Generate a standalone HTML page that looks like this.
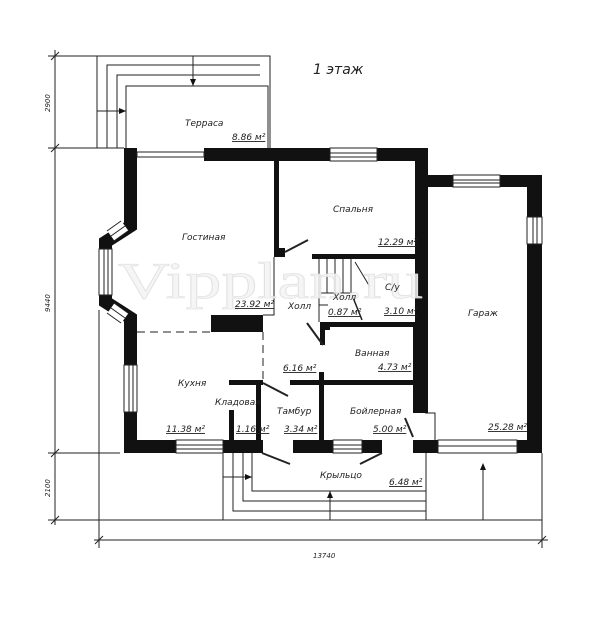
<!DOCTYPE html>
<html><head><meta charset="utf-8"><style>
html,body{margin:0;padding:0;background:#fff;}
svg{display:block;}
text{font-family:"DejaVu Sans","Liberation Sans",sans-serif;font-style:italic;fill:#222;}
</style></head><body>
<svg width="600" height="625" viewBox="0 0 600 625" xmlns="http://www.w3.org/2000/svg">
<rect width="600" height="625" fill="#fff"/>

<g stroke="#222" stroke-width="1" fill="none">
<line x1="55" y1="50" x2="55" y2="525"/>
<line x1="48" y1="56" x2="100" y2="56"/>
<line x1="48" y1="148" x2="124" y2="148"/>
<line x1="48" y1="453" x2="120" y2="453"/>
<line x1="48" y1="520" x2="223" y2="520"/>
<line x1="51" y1="60" x2="59" y2="52"/><line x1="51" y1="152" x2="59" y2="144"/>
<line x1="51" y1="457" x2="59" y2="449"/><line x1="51" y1="524" x2="59" y2="516"/>
<line x1="94" y1="540" x2="548" y2="540"/>
<line x1="99" y1="310" x2="99" y2="548"/>
<line x1="542" y1="453" x2="542" y2="548"/>
<line x1="95" y1="544" x2="103" y2="536"/><line x1="538" y1="544" x2="546" y2="536"/>
<polyline points="97,148 97,56 270,56 270,148"/>
<polyline points="107,148 107,65 260,65"/>
<polyline points="117,148 117,75 260,75"/>
<polyline points="126,148 126,86 268,86 268,148"/>
<line x1="97" y1="111" x2="126" y2="111"/>
<line x1="193" y1="56" x2="193" y2="86"/>
<polyline points="223,453 223,520 542,520"/>
<polyline points="233,453 233,511 426,511"/>
<polyline points="243,453 243,501 426,501"/>
<polyline points="252,453 252,491 426,491"/>
<line x1="426" y1="453" x2="426" y2="520"/>
<line x1="223" y1="477" x2="252" y2="477"/>
<line x1="330" y1="491" x2="330" y2="520"/>
<line x1="483" y1="465" x2="483" y2="520"/>
<line x1="427" y1="187" x2="427" y2="413"/>
<polyline points="425,413 435,413 435,440"/>
</g>
<g fill="#111">
<polygon points="193,86 190,79 196,79"/>
<polygon points="126,111 119,108 119,114"/>
<polygon points="252,477 245,474 245,480"/>
<polygon points="330,491 327,498 333,498"/>
<polygon points="483,463 480,470 486,470"/>
</g>

<g fill="#111">
<rect x="124" y="148" width="13" height="70"/>
<rect x="204" y="148" width="126" height="13"/>
<rect x="377" y="148" width="51" height="13"/>
<rect x="415" y="148" width="13" height="265"/>
<rect x="428" y="175" width="25" height="12"/>
<rect x="500" y="175" width="42" height="12"/>
<rect x="527" y="175" width="15" height="42"/>
<rect x="527" y="244" width="15" height="209"/>
<rect x="124" y="320" width="13" height="45"/>
<rect x="124" y="412" width="13" height="41"/>
<rect x="124" y="440" width="52" height="13"/>
<rect x="223" y="440" width="40" height="13"/>
<rect x="293" y="440" width="40" height="13"/>
<rect x="362" y="440" width="20" height="13"/>
<rect x="413" y="440" width="25" height="13"/>
<rect x="517" y="440" width="25" height="13"/>
<rect x="274" y="161" width="5" height="96"/>
<rect x="274" y="248" width="11" height="9"/>
<rect x="312" y="254" width="104" height="5"/>
<rect x="320" y="322" width="95" height="5"/>
<rect x="320" y="322" width="10" height="8"/>
<rect x="320" y="322" width="5" height="23"/>
<rect x="229" y="380" width="34" height="5"/>
<rect x="256" y="380" width="5" height="60"/>
<rect x="229" y="410" width="5" height="30"/>
<rect x="290" y="380" width="123" height="5"/>
<rect x="319" y="372" width="5" height="68"/>
<rect x="211" y="315" width="52" height="17"/>
<rect x="413" y="327" width="12" height="86"/>
</g>
<polyline points="130.5,212 130.5,226 105.5,242 105.5,302 130.5,318 130.5,330" fill="none" stroke="#111" stroke-width="13" stroke-linejoin="miter"/>
<g stroke="#222" stroke-width="1">
<line x1="125" y1="226" x2="111" y2="236" stroke="#fff" stroke-width="11"/>
<line x1="121" y1="221" x2="107" y2="231"/><line x1="128" y1="231" x2="114" y2="241"/>
<line x1="125" y1="226" x2="111" y2="236"/>
<line x1="111" y1="308" x2="125" y2="318" stroke="#fff" stroke-width="11"/>
<line x1="107" y1="313" x2="121" y2="323"/><line x1="114" y1="303" x2="128" y2="313"/>
<line x1="111" y1="308" x2="125" y2="318"/>
</g>
<g stroke="#222" stroke-width="1" fill="#fff">
<rect x="137" y="152" width="67" height="5"/>
<rect x="330" y="148" width="47" height="13"/>
<line x1="330" y1="153" x2="377" y2="153"/><line x1="330" y1="157" x2="377" y2="157"/>
<rect x="453" y="175" width="47" height="12"/>
<line x1="453" y1="180" x2="500" y2="180"/><line x1="453" y1="183" x2="500" y2="183"/>
<rect x="527" y="217" width="15" height="27"/>
<line x1="533" y1="217" x2="533" y2="244"/><line x1="537" y1="217" x2="537" y2="244"/>
<rect x="99" y="249" width="13" height="46"/>
<line x1="104" y1="249" x2="104" y2="295"/><line x1="108" y1="249" x2="108" y2="295"/>
<rect x="124" y="365" width="13" height="47"/>
<line x1="129" y1="365" x2="129" y2="412"/><line x1="133" y1="365" x2="133" y2="412"/>
<rect x="176" y="440" width="47" height="13"/>
<line x1="176" y1="445" x2="223" y2="445"/><line x1="176" y1="449" x2="223" y2="449"/>
<rect x="333" y="440" width="29" height="13"/>
<line x1="333" y1="445" x2="362" y2="445"/><line x1="333" y1="449" x2="362" y2="449"/>
<rect x="438" y="440" width="79" height="13"/>
<line x1="438" y1="446" x2="517" y2="446"/>
</g>
<g stroke="#222" stroke-width="1" fill="none">
<line x1="137" y1="332" x2="211" y2="332" stroke-dasharray="8,5"/>
<line x1="263" y1="332" x2="263" y2="380" stroke-dasharray="8,5"/>
<polyline points="263,315 274,315 274,257"/>
<line x1="319" y1="259" x2="319" y2="322"/>
<line x1="319" y1="293" x2="350" y2="293"/>
<line x1="327" y1="259" x2="327" y2="293"/><line x1="335" y1="259" x2="335" y2="293"/>
<line x1="343" y1="259" x2="343" y2="293"/><line x1="351" y1="259" x2="351" y2="293"/>
<line x1="355" y1="262" x2="370" y2="287"/>
<line x1="319" y1="305" x2="328" y2="305"/>
<line x1="285" y1="252" x2="308" y2="240" stroke-width="2"/>
<line x1="323" y1="345" x2="307" y2="323" stroke-width="2"/>
<line x1="263" y1="383" x2="288" y2="396" stroke-width="2"/>
<line x1="262" y1="453" x2="290" y2="464" stroke-width="2"/>
<line x1="382" y1="453" x2="360" y2="464" stroke-width="2"/>
<line x1="413" y1="437" x2="405" y2="418" stroke-width="2"/>
<line x1="352" y1="295" x2="362" y2="320" stroke-width="1.5"/>
</g>
<text x="118" y="298" font-size="52" textLength="305" lengthAdjust="spacingAndGlyphs" style="font-family:'Liberation Serif',serif;font-style:normal;fill:#f3f3f3;stroke:#e2e2e2;stroke-width:0.8" fill-opacity="0.85">Vipplan.ru</text>
<text x="313" y="74" font-size="14">1 этаж</text>
<g font-size="9">
<text x="185" y="126">Терраса</text>
<text x="232" y="140" text-decoration="underline">8.86 м²</text>
<text x="333" y="212">Спальня</text>
<text x="378" y="245" text-decoration="underline">12.29 м²</text>
<text x="182" y="240">Гостиная</text>
<text x="235" y="307" text-decoration="underline">23.92 м²</text>
<text x="288" y="309">Холл</text>
<text x="333" y="300">Холл</text>
<text x="328" y="315" text-decoration="underline">0.87 м²</text>
<text x="385" y="290">С/у</text>
<text x="384" y="314" text-decoration="underline">3.10 м²</text>
<text x="468" y="316">Гараж</text>
<text x="488" y="430" text-decoration="underline">25.28 м²</text>
<text x="355" y="356">Ванная</text>
<text x="378" y="370" text-decoration="underline">4.73 м²</text>
<text x="283" y="371" text-decoration="underline">6.16 м²</text>
<text x="178" y="386">Кухня</text>
<text x="215" y="405">Кладовая</text>
<text x="166" y="432" text-decoration="underline">11.38 м²</text>
<text x="236" y="432" text-decoration="underline">1.16 м²</text>
<text x="277" y="414">Тамбур</text>
<text x="284" y="432" text-decoration="underline">3.34 м²</text>
<text x="350" y="414">Бойлерная</text>
<text x="373" y="432" text-decoration="underline">5.00 м²</text>
<text x="320" y="478">Крыльцо</text>
<text x="389" y="485" text-decoration="underline">6.48 м²</text>
</g>
<g font-size="7">
<text x="313" y="558">13740</text>
<text transform="translate(50,112) rotate(-90)">2900</text>
<text transform="translate(50,312) rotate(-90)">9440</text>
<text transform="translate(50,497) rotate(-90)">2100</text>
</g>
</svg>
</body></html>
